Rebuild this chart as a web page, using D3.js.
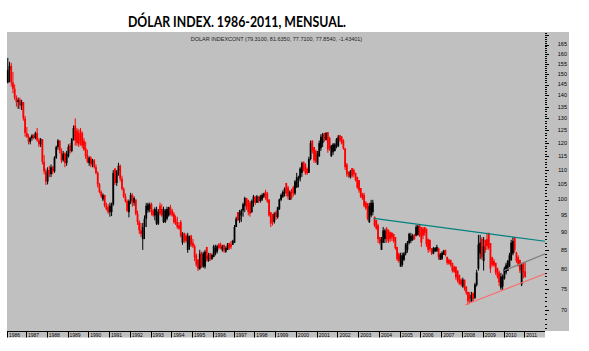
<!DOCTYPE html>
<html>
<head>
<meta charset="utf-8">
<script src="https://cdn.jsdelivr.net/npm/d3@7"></script>
<style>
  body { margin: 0; background: #fff; }
  svg { display: block; font-family: Arial, "Liberation Sans", sans-serif; }
</style>
</head>
<body>
<div id="chart"></div>
<script>
// Dollar index, monthly bars Feb 1986 .. Jan 2011
const firstMonth = new Date(1986, 1, 1);

const open = [
  146,152,154,146,143,139,137,138,135.5,137,130,
  124,122.5,120.5,122,123,122,124,121,119.5,121.5,113,109.5,
  106,110,108.5,111,109.5,114.5,118.5,121,117,113.5,116,112.5,
  115,119,117,121.5,127,125,124,125,124,121,118,115.5,
  112.5,114.5,112,113.5,111,109,105,102.5,100,101.5,98,97.5,
  96,96,98.5,110.5,105.5,109.5,111.5,107,103.5,101,99.5,96,
  99.5,101.5,99,100,95.5,93,90.5,88,91.5,94,96.5,97,
  98.5,96.5,95,92.5,92.5,98,97,93,93,94,95,97.5,
  96.5,95.5,94,93,92,93,87,89.8,89,85,86,89,
  87,86,83.5,82.3,80,84,80.5,80.5,85.8,82,84,82.5,
  83.1,84,84.5,86.5,86.5,85,86.4,84.5,85,86.9,86.5,86.4,
  87,91.5,96,93.5,95,96.5,98,100.5,99.9,99,96,99,
  101,99,101,99.5,100,101,102.5,102,100,96,95,93,
  96,94.5,97,99.9,100.9,102,105.5,104,99.9,103,104,102,
  104,106.5,107,109,113,112,110.5,109,114,121,118.5,117,
  112,115,118,120,124,121.2,124.3,122,115,116.5,117,118.5,
  119,123,122.5,121,118,112,109.3,107.5,110.7,110,109,107.6,
  106.5,103.8,102,101.5,99,98.9,93,95,96,94.6,93.6,92,
  88.6,85,87,88,91,90.7,90,89.8,89.5,88.6,85.8,84,
  80.5,81,82.3,84,85,86.9,87.5,87.8,89.2,89,89.2,92.1,
  91.5,91,91.5,91,88,87.8,85.4,84,84.6,84.6,85.4,82.3,
  82.6,83.6,85,83.1,82.3,82.3,81.5,80.5,80.5,79.5,78.4,77.2,
  75.5,77.2,75.5,74.2,73.5,71.9,74,72.8,75.9,80,84,88,
  82,87.8,88,89.8,86.9,83,82,81.5,80.2,79,75.2,75.5,
  77.5,79,79.4,80.5,82.3,84,88.6,84.2,83,82.3,76,81.5,
  79.31
];

const high = [
  158,156,155.5,151,145,140,139,139,138,137,131,
  126.4,123.5,122.5,123.5,123.5,124.5,126,122,122,121.5,115.5,110.5,
  111,111.5,112,111.5,115,119,121.5,121,118,117,116.5,117,
  119.5,120,122,127,130,126,125.5,126,124.5,122,120.5,117.5,
  115,115,114,114,112,109.5,105.5,103,102,101.5,99,98.5,
  99,99,110,110.7,110,112.6,112,108,104,102,100,100,
  102.2,102,101,100,96.5,93.5,92.7,92.7,95,98.9,99,99,
  99,97,97.5,97.7,97,99,98.5,97.7,97,97.7,97.7,98.3,
  97,96,95,94.6,93,93.6,90,89.8,89.5,89.8,89,89.2,
  88,86.5,84,82.5,85,84.5,84.5,85,85.8,84.2,84.2,84,
  86.4,86.4,86.4,86.9,87,86.4,86.4,86,86.9,87,87.5,87.8,
  92.1,94.6,96,96.7,97,99,100.9,100.5,99.9,99.5,100,101.5,
  101,101.5,101,101.5,102,102.2,103.2,102.5,100,96,95.5,96,
  96.5,97.7,100.3,102,103,104,105.5,104.5,103,103.5,104.5,106.5,
  109,108,111,113,113,112.5,111,114.8,121,121,118.5,117.5,
  117,121,123.5,124,124,124.3,124.3,122.5,119.3,120,120,122,
  123.2,123.2,122.8,121.5,118,112.5,109.5,110,110.7,110.5,109,107.6,
  106.5,103.8,102.2,102.2,99.5,98.9,98.9,99.9,99.9,94.6,93.6,92.5,
  88.6,88.6,91.5,91,91.5,90.7,90.2,90,89.5,88.6,85.8,84.2,
  84.2,84.2,84.4,86.9,87.5,89.8,89.8,89.5,89.5,92.1,92.1,92.1,
  91.5,91.5,91.5,91,88.2,87.8,85.4,85.8,85.8,86.4,85.6,84.2,
  84.6,85,85,83.1,82.6,82.3,81.5,80.8,80.5,79.5,78.4,77.5,
  77.7,77.2,75.5,74.2,74.2,74.2,74,76.4,79.7,89.2,89.2,88.5,
  88.6,87.8,89.8,89.8,86.9,83.1,82.5,81.5,80.2,79.5,78.9,78.5,
  80.5,81.5,82.3,84.2,87.8,88.6,88.6,84.5,83.5,82.3,81.5,81.5,
  81.635
];

const low = [
  145.5,146,144,141,138,135,134,134,133.5,129,122.5,
  122,119.5,119.5,121,121.5,121.5,120.5,118.5,118.5,112,108.5,104.8,
  105,107.5,107.5,108.5,109,114,117.5,116,112.5,113,111,111.5,
  114.5,116,116.5,121,119,119,118.5,119,118,117,114,112.5,
  111.5,111,111,110.5,108.5,104,102,100.5,99.5,97.5,96.5,95.5,
  94.6,94.8,98,104.8,104.5,108,106,103,100.5,99,96,94.4,
  98.5,97.7,98,95,92.1,89.5,88.6,85,88,91.5,95.8,96,
  95,94.6,93.5,92.1,92.1,95,94.6,92.7,92.7,93.5,94.6,95,
  94.6,92.5,92.1,91,90.7,88.5,86.4,86.9,87,84.2,85,85.8,
  85.5,82,80.5,79.4,79.7,80.2,80.2,80,81.8,81.8,82,82.3,
  83,83.5,84,85,85.2,84.5,84.2,84.2,85,85,85.2,86.4,
  86.9,91.5,93.3,92.7,93,94.6,96,96.7,95,94.6,95.8,97.7,
  98.3,98.9,98.9,99,99.5,100.5,99.9,98.9,94.6,91.5,92,92.5,
  93.6,94,96.7,99.5,100.5,101,101,100,99.9,100,101,101.5,
  103.8,104,106,107.6,109.5,108.3,108.3,109,113.5,116,112.6,112.5,
  111.8,114.8,117,118.5,120.5,121,116.3,117,114.8,115.5,116.8,118,
  118.5,120.5,119.5,117.4,110,107.6,107.3,107,107.3,107.5,106,103.5,
  102.2,100.5,99.9,97.5,96.7,93.5,92.7,94.4,95,91.5,90.7,86.9,
  86.5,85,86.9,86.9,87,86.9,87.2,87.5,87,85,82,81.5,
  80.5,80.5,82,83.5,84.2,86.5,86.9,87.5,87.8,88.8,89,88.6,
  85.8,88,89,85.8,84.2,84.5,83.6,83.8,84.4,84.5,82.3,82.3,
  82.3,83.6,83.2,81,81,80.5,79,78.9,77.2,76.5,75.9,75.5,
  75.2,74.5,73.5,71.2,71.5,71.9,71.9,72.5,75.5,79.5,82.5,82.3,
  79.5,84.2,85,85,78.9,80.5,80.5,78.4,77.5,75.6,74.7,74.7,
  77.2,78.5,79.4,80.5,82,83.5,84.2,81.5,80.5,78.9,75.6,77.5,
  77.71
];

const close = [
  152,154,146,143,139,137,138,135.5,137,130,124,
  122.5,120.5,122,123,122,124,121,119.5,121.5,113,109.5,106,
  110,108.5,111,109.5,114.5,118.5,121,117,113.5,116,112.5,116,
  118.5,117,121.5,126,121,120,119.5,120.5,119,117.5,115,113,
  114.5,112,113.5,111,109,105,102.5,101,101.5,98,97,96,
  98,98.5,109,105.5,109.5,111.5,107,103.5,101,99.5,96.5,99.5,
  101.5,99,100.5,95.5,93,90.5,89.5,91.5,94,98,98.5,98.5,
  96,95,97,96.5,96,95.5,95,97,96.5,97,97.5,95.5,
  95,93,92.5,91.5,91,89,89.5,87.5,87.5,89,88.5,86.5,
  86,83,81,80,84,81,84,84.5,82.5,83.5,82.5,83.6,
  86,85.5,86,85.5,85.5,86,84.8,85.5,86.5,85.5,85.8,87.5,
  91.5,94,93.5,96,96.5,98.5,100.5,97.5,96,95.5,99.5,101,
  99,101,99.5,101,101.5,102,100.5,99.5,95,92.5,93,95.5,
  94.5,97.5,100,101.5,102.5,103.5,102,101,102.5,100.5,102,106,
  107.5,107,110.5,112.5,110,109,108.8,114,120,117,113.5,113,
  116,120,122.5,123.5,121.5,124,117.5,118,119,119.5,119.5,121.5,
  122.5,121,120,118,111,108.5,107.8,109.5,108,108.5,106.5,104,
  103,101,100.5,98,97.2,94,98,99,99,92,91,88,
  87,88,90.5,90.5,88,87.5,88,88.5,87.5,85.5,82.5,82,
  83.5,83.5,84,86.5,87,89.5,89,89,88,91.5,91.8,89,
  87,89,89.8,86.5,85,85.2,84,85.5,85.5,85.8,83,83.8,
  84.2,84.8,83.6,81.5,81.3,81,79.5,79.2,77.8,77,76.2,76,
  77.2,75,74,72,72.5,73.5,72.5,76,79,86.5,87,83,
  86,85,86,85.5,80,81,80.8,79,78,76.5,78,78,
  80,81,82,83.5,87,87.5,85,82,81,79.5,81,79,
  77.854
];

// axis labels
const yearLabels = d3.range(1986, 2012).map(String);
const priceLabels = d3.range(70, 166, 5);

// trend lines drawn on the chart
const tealDates = [new Date(2003, 9, 4), new Date(2012, 0, 1)];
const tealValues = [94.1, 87.4];
const grayDates = [new Date(2010, 0, 13), new Date(2012, 0, 1)];
const grayValues = [79.5, 83.9];
const pinkDates = [new Date(2008, 1, 28), new Date(2012, 0, 1)];
const pinkValues = [71.2, 78.7];

const W = 589, H = 351;
const plot = { left: 7, right: 545, top: 32, bottom: 331, panelRight: 569 };

const svg = d3.select("#chart").append("svg")
    .attr("width", W)
    .attr("height", H);

const x = d3.scaleTime()
    .domain([new Date(1986, 1, 1), new Date(2012, 0, 1)])
    .range([plot.left, plot.right]);

const y = d3.scaleLog()
    .domain([65.4, 171.8])
    .range([plot.bottom, plot.top]);

// grey panel
svg.append("rect")
    .attr("x", plot.left).attr("y", plot.top)
    .attr("width", plot.panelRight - plot.left)
    .attr("height", plot.bottom - plot.top)
    .attr("fill", "#c0c0c0");

// title
svg.append("text")
    .attr("x", 237).attr("y", 26.5)
    .attr("text-anchor", "middle")
    .attr("textLength", 218)
    .attr("lengthAdjust", "spacingAndGlyphs")
    .style("font-family", "Lato, 'Open Sans', sans-serif")
    .style("font-weight", "bold")
    .style("font-size", "15px")
    .attr("fill", "#000")
    .text("DÓLAR INDEX. 1986-2011, MENSUAL.");

svg.append("text")
    .attr("x", 276.5).attr("y", 41)
    .attr("text-anchor", "middle")
    .style("font-size", "5.5px")
    .attr("fill", "#222")
    .text("DOLAR INDEXCONT (79.3100, 81.6350, 77.7100, 77.8540, -1.43401)");

// bars
const bars = close.map((c, i) => {
    const m0 = d3.timeMonth.offset(firstMonth, i);
    const m1 = d3.timeMonth.offset(firstMonth, i + 1);
    return { o: open[i], h: high[i], l: low[i], c, m0, m1 };
});

const g = svg.append("g");

g.selectAll(".wick")
    .data(bars)
    .enter()
    .append("line")
    .attr("class", "wick")
    .attr("x1", d => (x(d.m0) + x(d.m1)) / 2)
    .attr("x2", d => (x(d.m0) + x(d.m1)) / 2)
    .attr("y1", d => y(d.h))
    .attr("y2", d => y(d.l))
    .attr("stroke", d => d.c < d.o ? "#ff0000" : "#000")
    .attr("stroke-width", 1);

g.selectAll(".body")
    .data(bars)
    .enter()
    .append("rect")
    .attr("class", "body")
    .attr("x", d => (x(d.m0) + x(d.m1)) / 2 - 0.9)
    .attr("width", 1.8)
    .attr("y", d => Math.min(y(d.o), y(d.c)))
    .attr("height", d => Math.max(1, Math.abs(y(d.o) - y(d.c))))
    .attr("fill", d => d.c < d.o ? "#ff0000" : "#000");

// trend lines
const line = d3.line().x(d => x(d[0])).y(d => y(d[1]));
[[tealDates, tealValues, "#008080"],
 [grayDates, grayValues, "#808080"],
 [pinkDates, pinkValues, "#ff6a6a"]].forEach(([ds, vs, col]) => {
    svg.append("path")
        .attr("d", line(ds.map((d, i) => [d, vs[i]])))
        .attr("fill", "none")
        .attr("stroke", col)
        .attr("stroke-width", 1.2);
});

// right price axis
const minorTicks = d3.range(66, 172);
svg.selectAll(".ytick")
    .data(minorTicks)
    .enter()
    .append("line")
    .attr("x1", plot.right)
    .attr("x2", d => d % 5 === 0 ? plot.right + 4 : plot.right + 2)
    .attr("y1", d => Math.round(y(d)) + 0.5)
    .attr("y2", d => Math.round(y(d)) + 0.5)
    .attr("stroke", "#000")
    .attr("stroke-width", 1);

svg.selectAll(".ylabel")
    .data(priceLabels)
    .enter()
    .append("text")
    .attr("x", 567)
    .attr("y", d => y(d))
    .attr("dy", "0.35em")
    .attr("text-anchor", "end")
    .style("font-size", "5.5px")
    .attr("fill", "#000")
    .text(d => d);

// bottom year strip
svg.append("rect")
    .attr("x", plot.left).attr("y", plot.bottom)
    .attr("width", plot.right - plot.left)
    .attr("height", 6.5)
    .attr("fill", "#c0c0c0");

svg.append("line")
    .attr("x1", plot.left).attr("x2", plot.right)
    .attr("y1", plot.bottom + 0.5).attr("y2", plot.bottom + 0.5)
    .attr("stroke", "#000");

const yearStart = yr => yr === 1986 ? new Date(1986, 1, 1) : new Date(yr, 0, 1);

svg.selectAll(".ysep")
    .data(yearLabels)
    .enter()
    .append("line")
    .attr("x1", d => Math.round(x(yearStart(+d))) + 0.5)
    .attr("x2", d => Math.round(x(yearStart(+d))) + 0.5)
    .attr("y1", plot.bottom)
    .attr("y2", plot.bottom + 6.5)
    .attr("stroke", "#000");

svg.selectAll(".xlabel")
    .data(yearLabels)
    .enter()
    .append("text")
    .attr("x", d => x(yearStart(+d)) + 2)
    .attr("y", plot.bottom + 5.6)
    .style("font-size", "5px")
    .attr("fill", "#000")
    .text(d => d);
</script>
</body>
</html>
